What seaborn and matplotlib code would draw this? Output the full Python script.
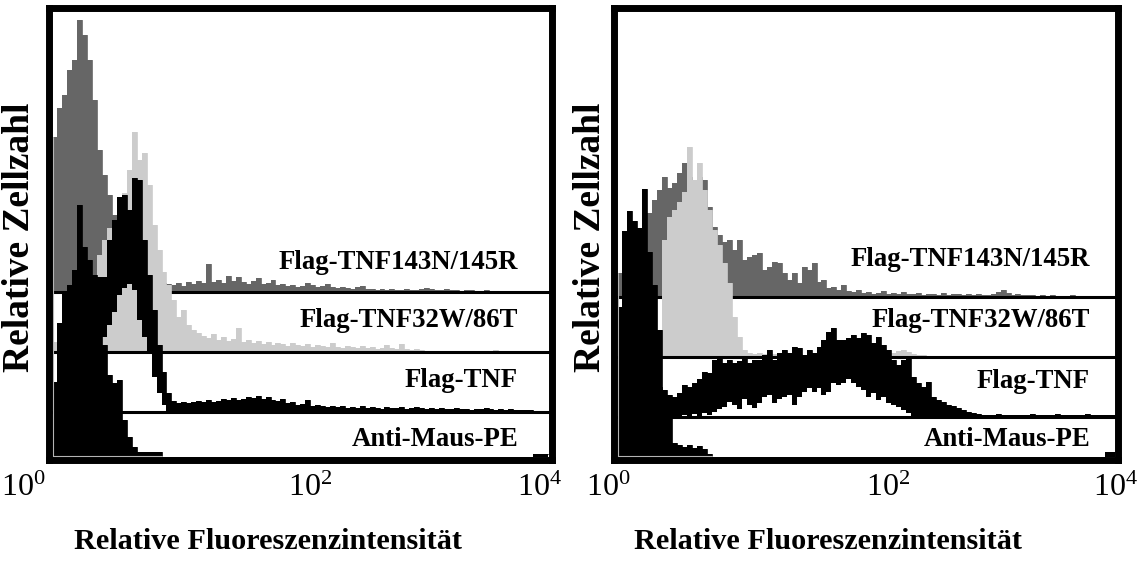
import numpy as np
import pandas as pd
import matplotlib
matplotlib.use("Agg")
import matplotlib.pyplot as plt
from matplotlib.ticker import NullLocator
from matplotlib.transforms import ScaledTranslation
import seaborn as sns

# ---------------------------------------------------------------------------
# Channel grid: 100 log-spaced fluorescence channels from 10^0 to 10^4
# ---------------------------------------------------------------------------
N_CHANNELS = 100
decade_edges = np.linspace(0.0, 4.0, N_CHANNELS + 1)
intensity_edges = 10.0 ** decade_edges

samples = ["Flag-TNF143N/145R", "Flag-TNF32W/86T", "Flag-TNF", "Anti-Maus-PE"]
tick_values = [1, 100, 10000]
tick_labels = [r"$\mathregular{10^{0}}$", r"$\mathregular{10^{2}}$", r"$\mathregular{10^{4}}$"]

# ---------------------------------------------------------------------------
# Left panel: relative cell counts per channel
# ---------------------------------------------------------------------------
left_tnf143n_145r = [
    155, 184, 197, 222, 232, 272, 257, 232, 192, 142,
    117, 97, 77, 52, 37, 27, 20, 16, 12, 10,
    9, 8, 9, 8, 7, 9, 6, 10, 8, 11,
    9, 28, 10, 12, 9, 16, 11, 15, 10, 8,
    11, 14, 8, 9, 12, 7, 8, 6, 7, 5,
    6, 9, 7, 5, 6, 8, 5, 4, 5, 4,
    3, 5, 6, 3, 3, 2, 3, 2, 3, 2,
    2, 3, 2, 2, 3, 4, 3, 2, 2, 3,
    2, 2, 1, 2, 2, 1, 1, 2, 1, 1,
    1, 1, 1, 1, 1, 1, 1, 1, 1, 1,
]
left_tnf32w_86t = [
    10, 10, 12, 14, 18, 24, 32, 45, 62, 97,
    112, 124, 132, 147, 159, 182, 220, 192, 199, 167,
    127, 102, 80, 67, 52, 35, 42, 27, 22, 19,
    16, 14, 18, 12, 15, 11, 13, 24, 10, 12,
    9, 11, 8, 10, 7, 9, 8, 6, 9, 7,
    6, 8, 5, 7, 6, 5, 9, 5, 4, 6,
    5, 4, 6, 4, 5, 3, 4, 7, 4, 3,
    8, 3, 2, 3, 2, 1, 1, 0, 1, 0,
    0, 0, 0, 0, 0, 0, 0, 0, 0, 2,
    0, 0, 0, 0, 0, 0, 0, 0, 0, 0,
]
# Flag-TNF is drawn as an envelope band (upper / lower channel counts)
left_flag_tnf_high = [
    30, 30, 30, 30, 30, 35, 45, 60, 100, 135,
    135, 172, 192, 215, 217, 202, 234, 232, 172, 137,
    102, 67, 40, 19, 11, 9, 10, 9, 10, 11,
    10, 12, 10, 11, 13, 12, 14, 12, 13, 15,
    14, 16, 13, 15, 12, 11, 13, 9, 10, 7,
    8, 12, 6, 7, 6, 5, 6, 5, 6, 4,
    5, 4, 6, 4, 5, 4, 3, 5, 4, 4,
    5, 3, 4, 5, 4, 3, 4, 3, 4, 3,
    3, 4, 3, 3, 2, 3, 3, 4, 3, 2,
    3, 2, 3, 2, 2, 2, 2, 1, 1, 1,
]
left_flag_tnf_low = [
    0, 0, 0, 0, 0, 0, 0, 0, 40, 60,
    75, 87, 100, 117, 124, 128, 122, 92, 75, 60,
    35, 19, 7, 0, 0, 0, 0, 0, 0, 0,
    0, 0, 0, 0, 0, 0, 0, 0, 0, 0,
    0, 0, 0, 0, 0, 0, 0, 0, 0, 0,
    0, 0, 0, 0, 0, 0, 0, 0, 0, 0,
    0, 0, 0, 0, 0, 0, 0, 0, 0, 0,
    0, 0, 0, 0, 0, 0, 0, 0, 0, 0,
    0, 0, 0, 0, 0, 0, 0, 0, 0, 0,
    0, 0, 0, 0, 0, 0, 0, 0, 0, 0,
]
left_anti_maus_pe = [
    65, 134, 164, 172, 187, 252, 210, 197, 182, 160,
    112, 82, 74, 77, 37, 20, 10, 5, 5, 5,
    5, 5, 0, 0, 0, 0, 0, 0, 0, 0,
    0, 0, 0, 0, 0, 0, 0, 0, 0, 0,
    0, 0, 0, 0, 0, 0, 0, 0, 0, 0,
    0, 0, 0, 0, 0, 0, 0, 0, 0, 0,
    0, 0, 0, 0, 0, 0, 0, 0, 0, 0,
    0, 0, 0, 0, 0, 0, 0, 0, 0, 0,
    0, 0, 0, 0, 0, 0, 0, 0, 0, 0,
    0, 0, 0, 0, 0, 0, 0, 3, 3, 3,
]

# ---------------------------------------------------------------------------
# Right panel: relative cell counts per channel
# ---------------------------------------------------------------------------
right_tnf143n_145r = [
    24, 30, 40, 50, 58, 64, 84, 97, 107, 120,
    109, 114, 124, 134, 120, 115, 120, 117, 90, 70,
    62, 55, 57, 47, 57, 37, 40, 42, 44, 27,
    30, 35, 34, 24, 17, 24, 14, 30, 27, 34,
    15, 17, 9, 10, 7, 12, 6, 5, 7, 4,
    5, 3, 4, 6, 3, 4, 3, 5, 3, 3,
    4, 2, 3, 3, 2, 4, 2, 3, 3, 2,
    3, 2, 3, 2, 2, 3, 5, 7, 4, 2,
    3, 2, 2, 2, 1, 2, 1, 2, 1, 1,
    1, 2, 1, 1, 1, 1, 1, 1, 1, 1,
]
right_tnf32w_86t = [
    8, 8, 8, 8, 8, 8, 8, 10, 20, 117,
    140, 147, 155, 165, 210, 177, 194, 167, 147, 127,
    112, 94, 74, 40, 20, 7, 4, 3, 4, 3,
    2, 3, 4, 2, 3, 2, 3, 2, 2, 3,
    2, 2, 3, 2, 2, 2, 3, 2, 2, 2,
    2, 2, 3, 2, 2, 4, 6, 7, 5, 3,
    2, 2, 1, 1, 1, 0, 1, 0, 0, 1,
    0, 0, 0, 0, 0, 0, 0, 0, 0, 0,
    0, 0, 0, 0, 0, 0, 0, 0, 0, 0,
    0, 0, 0, 0, 0, 0, 0, 0, 0, 0,
]
right_flag_tnf_high = [
    30, 30, 30, 30, 30, 30, 30, 30, 30, 27,
    22, 20, 24, 32, 30, 34, 38, 45, 44, 57,
    60, 54, 57, 54, 56, 60, 54, 57, 57, 62,
    67, 57, 64, 67, 64, 70, 69, 62, 67, 64,
    70, 77, 85, 89, 77, 77, 79, 82, 79, 84,
    82, 74, 80, 72, 67, 57, 52, 57, 60, 40,
    34, 30, 35, 20, 17, 15, 12, 11, 9, 7,
    5, 4, 3, 2, 2, 2, 3, 2, 2, 2,
    2, 2, 2, 3, 2, 2, 2, 2, 3, 2,
    2, 2, 2, 2, 3, 2, 2, 2, 2, 2,
]
right_flag_tnf_low = [
    0, 0, 0, 0, 0, 0, 0, 0, 0, 0,
    0, 0, 0, 2, 0, 3, 0, 4, 2, 5,
    8, 10, 15, 12, 8, 18, 12, 9, 14, 20,
    22, 14, 18, 20, 22, 12, 20, 25, 29, 25,
    29, 22, 25, 34, 32, 34, 38, 34, 30, 27,
    20, 24, 17, 20, 14, 12, 10, 7, 4, 0,
    0, 0, 0, 0, 0, 0, 0, 0, 0, 0,
    0, 0, 0, 0, 0, 0, 0, 0, 0, 0,
    0, 0, 0, 0, 0, 0, 0, 0, 0, 0,
    0, 0, 0, 0, 0, 0, 0, 0, 0, 0,
]
right_anti_maus_pe = [
    150, 226, 246, 236, 229, 268, 205, 172, 127, 55,
    45, 14, 12, 10, 12, 9, 11, 8, 3, 0,
    0, 0, 0, 0, 0, 0, 0, 0, 0, 0,
    0, 0, 0, 0, 0, 0, 0, 0, 0, 0,
    0, 0, 0, 0, 0, 0, 0, 0, 0, 0,
    0, 0, 0, 0, 0, 0, 0, 0, 0, 0,
    0, 0, 0, 0, 0, 0, 0, 0, 0, 0,
    0, 0, 0, 0, 0, 0, 0, 0, 0, 0,
    0, 0, 0, 0, 0, 0, 0, 0, 0, 0,
    0, 0, 0, 0, 0, 0, 0, 0, 5, 5,
]

# ---------------------------------------------------------------------------
# Styling
# ---------------------------------------------------------------------------
sns.set_theme(style="white")
plt.rcParams["font.family"] = ["Liberation Serif", "DejaVu Serif"]
plt.rcParams["mathtext.fontset"] = "custom"
plt.rcParams["mathtext.rm"] = "Liberation Serif"
plt.rcParams["mathtext.it"] = "Liberation Serif:italic"
plt.rcParams["mathtext.bf"] = "Liberation Serif:bold"

layer_colors = ["#666666", "#cccccc", "black", "black"]
left_offsets = [165, 105, 45, 0]     # staggered baselines of the overlay
right_offsets = [160, 100, 40, 0]

fig = plt.figure(figsize=(11.41, 5.67), dpi=100)
ax_left = fig.add_axes([0.04251, 0.18871, 0.44084, 0.79630])
ax_right = fig.add_axes([0.53769, 0.18871, 0.44259, 0.79630])


def draw_layer(ax, upper, lower, base, color, z):
    upper = np.asarray(upper, dtype=float)
    lower = np.asarray(lower, dtype=float)
    assert len(upper) == N_CHANNELS and len(lower) == N_CHANNELS
    y_hi = np.append(base + upper, base + upper[-1])
    y_lo = np.append(base + lower, base + lower[-1])
    ax.fill_between(intensity_edges, y_lo, y_hi, step="post",
                    color=color, linewidth=0, zorder=z)
    edge = pd.DataFrame({"intensity": intensity_edges, "count": y_hi})
    sns.lineplot(data=edge, x="intensity", y="count", drawstyle="steps-post",
                 color=color, linewidth=0.6, estimator=None, sort=False,
                 ax=ax, zorder=z)
    if base > 0:
        ax.axhline(base, color="black", linewidth=2.2, zorder=z + 0.5)


def draw_panel(ax, dg, lg, tnf_hi, tnf_lo, am, offsets, text_x, text_y,
               tick_dx, ylab_x, xlab_x):
    zeros = np.zeros(N_CHANNELS)
    layers = [(dg, zeros), (lg, zeros), (tnf_hi, tnf_lo), (am, zeros)]
    for z, ((hi, lo), base, color) in enumerate(zip(layers, offsets, layer_colors), start=1):
        draw_layer(ax, hi, lo, base, color, z)

    # faint channel-axis lines along the first channel and the floor
    first_top = max(b + np.asarray(l[0][0]) for l, b in zip(layers, offsets))
    am_arr = np.asarray(am)
    am_end = intensity_edges[int(np.argmax(am_arr[:50] == 0))]
    ax.plot([1, 1], [0, first_top], color="#b4b4b4", linewidth=0.8, zorder=4.8)
    ax.plot([1, am_end], [1.5, 1.5], color="#b4b4b4", linewidth=0.8, zorder=4.8)

    for name, ty in zip(samples, text_y):
        ax.text(text_x, ty, name, transform=ax.transAxes, ha="right", va="center",
                fontsize=19.3, fontweight="bold", color="black", zorder=6)

    ax.set_xscale("log")
    ax.set_xlim(10 ** -0.0323, 10 ** 4.0283)
    ax.set_ylim(-3, 448.5)
    ax.set_yticks([])
    ax.set_xticks(tick_values)
    ax.set_xticklabels(tick_labels)
    ax.xaxis.set_minor_locator(NullLocator())
    ax.tick_params(axis="x", length=0, pad=10, labelsize=23, colors="black")
    for lab, dx in zip(ax.get_xticklabels(), tick_dx):
        lab.set_transform(lab.get_transform() +
                          ScaledTranslation(dx / 100.0, 0, fig.dpi_scale_trans))

    ax.set_xlabel("Relative Fluoreszenzintensität", fontsize=21.8,
                  fontweight="bold", color="black")
    ax.xaxis.label.set_va("center")
    ax.xaxis.set_label_coords(xlab_x, -0.1794)
    ax.set_ylabel("Relative Zellzahl", fontsize=27, fontweight="bold", color="black")
    ax.yaxis.label.set_va("center")
    ax.yaxis.set_label_coords(ylab_x, 0.494)

    ax.set_facecolor("white")
    for spine in ax.spines.values():
        spine.set_visible(True)
        spine.set_color("black")
        spine.set_linewidth(5.0)
        spine.set_capstyle("projecting")
        spine.set_zorder(10)


draw_panel(ax_left, left_tnf143n_145r, left_tnf32w_86t, left_flag_tnf_high,
           left_flag_tnf_low, left_anti_maus_pe, left_offsets,
           text_x=0.9334, text_y=[0.4385, 0.3079, 0.1750, 0.0465],
           tick_dx=[-29, 10, -8], ylab_x=-0.0586, xlab_x=0.4364)
draw_panel(ax_right, right_tnf143n_145r, right_tnf32w_86t, right_flag_tnf_high,
           right_flag_tnf_low, right_anti_maus_pe, right_offsets,
           text_x=0.9436, text_y=[0.443, 0.310, 0.173, 0.0465],
           tick_dx=[-9.5, 22, 1], ylab_x=-0.0446, xlab_x=0.4248)

fig.savefig("out.png", dpi=100, facecolor="white")
